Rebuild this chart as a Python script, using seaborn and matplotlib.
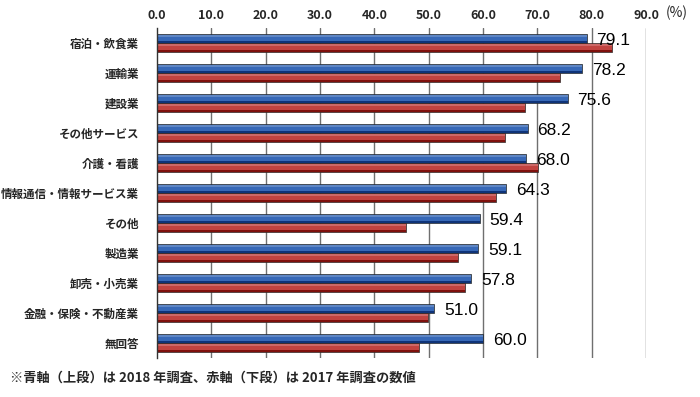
import numpy as np
import pandas as pd
import seaborn as sns
import matplotlib.pyplot as plt

categories = ["宿泊・飲食業", "運輸業", "建設業", "その他サービス", "介護・看護",
              "情報通信・情報サービス業", "その他", "製造業", "卸売・小売業",
              "金融・保険・不動産業", "無回答"]
values_2018 = [79.1, 78.2, 75.6, 68.2, 68.0, 64.3, 59.4, 59.1, 57.8, 51.0, 60.0]
values_2017 = [83.8, 74.1, 67.7, 64.1, 70.1, 62.3, 45.9, 55.4, 56.6, 49.9, 48.2]
x_ticks = [0, 10, 20, 30, 40, 50, 60, 70, 80, 90]

sns.set_style("white")
plt.rcParams['font.family'] = ['Noto Sans CJK JP', 'DejaVu Sans']

df = pd.DataFrame({
    "category": categories * 2,
    "value": values_2018 + values_2017,
    "year": ["2018"] * len(categories) + ["2017"] * len(categories),
})

fig = plt.figure(figsize=(7, 3.97), dpi=100)
ax = fig.add_axes([0.2243, 0.0982, 0.6986, 0.8312])

sns.barplot(data=df, y="category", x="value", hue="year", hue_order=["2018", "2017"],
            palette={"2018": "#2263cc", "2017": "#d62e2a"}, width=0.6, orient="h",
            edgecolor="#222222", linewidth=0.5, legend=False, ax=ax)

# dark lower edge to mimic the 3D look of the bars
for bar, dark in zip(ax.patches, ["#0e3378"] * len(categories) + ["#7f100c"] * len(categories)):
    x0, y0 = bar.get_x(), bar.get_y()
    w, h = bar.get_width(), bar.get_height()
    ax.add_patch(plt.Rectangle((x0, y0 + h * 0.74), w, h * 0.26, color=dark, lw=0, zorder=bar.get_zorder() + 0.1))
    ax.add_patch(plt.Rectangle((x0, y0 + h * 0.12), w, h * 0.16, color="white", alpha=0.2, lw=0, zorder=bar.get_zorder() + 0.1))

ax.set_xlim(0, 90)
ax.set_ylim(10.5, -0.5)
ax.xaxis.tick_top()
ax.set_xticks(x_ticks)
ax.set_xticklabels([f"{t:.1f}" for t in x_ticks], fontsize=9, fontweight="bold")
ax.tick_params(axis="x", length=0, pad=4)
ax.set_yticks(range(len(categories)))
ax.set_yticklabels(categories, fontsize=8.3, fontweight="bold")
ax.set_yticks(np.arange(-0.5, len(categories), 1), minor=True)
ax.tick_params(axis="y", which="major", length=0, pad=13)
ax.tick_params(axis="y", which="minor", length=4, width=0.8, color="#333333")
ax.set_xlabel("")
ax.set_ylabel("")

for x in x_ticks[1:]:
    ax.axvline(x, color="#6f6f6f", lw=1.0, zorder=0)
for s in ["top", "right", "bottom"]:
    ax.spines[s].set_visible(False)
ax.spines["left"].set_color("#333333")
ax.spines["left"].set_linewidth(1.0)

for i, v in enumerate(values_2018):
    ax.text(v + 1.8, i - 0.1, f"{v:.1f}", fontsize=12.5, va="center", ha="left", color="black",
            family=["Liberation Sans", "DejaVu Sans"], zorder=5)

fig.text(0.967, 0.967, "(%)", fontsize=10, ha="center", va="center")
fig.text(0.014, 0.048, "※青軸（上段）は 2018 年調査、赤軸（下段）は 2017 年調査の数値",
         fontsize=9.5, fontweight="bold", ha="left", va="center")

fig.savefig("out.png", dpi=100)
